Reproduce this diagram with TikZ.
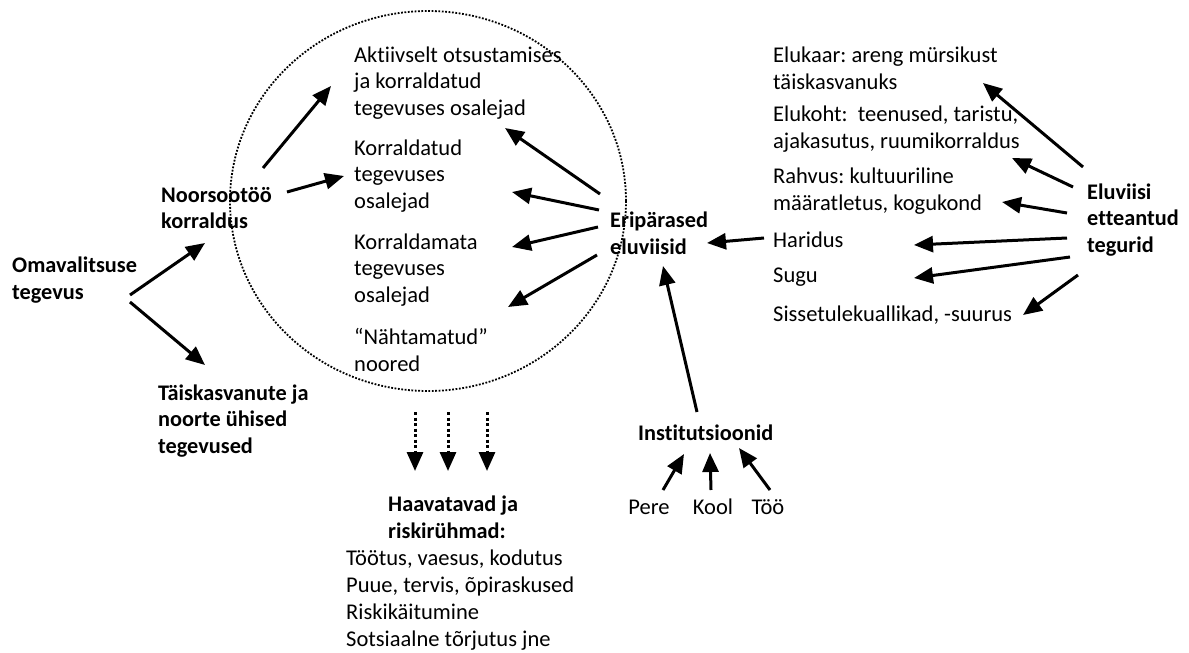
\documentclass[tikz,border=0pt]{standalone}
\usepackage{fontspec}
\setmainfont[Ligatures=NoCommon]{Carlito}
\usetikzlibrary{arrows.meta}
\begin{document}
\frenchspacing
\begin{tikzpicture}[x=1pt,y=-1pt,
  txt/.style={anchor=west,align=left,inner sep=0pt,font=\fontsize{22.5}{26.8}\selectfont},
  btxt/.style={anchor=west,align=left,inner sep=0pt,font=\fontsize{22.3}{26.8}\selectfont\bfseries},
  arr/.style={line width=3pt,-{Triangle[length=19pt,width=16pt]}},
  darr/.style={line width=3pt,dash pattern=on 3pt off 2.5pt,-{Triangle[length=19pt,width=16pt]}}]
\useasboundingbox (0,0) rectangle (1189,653);
% circle
\draw[line width=1.8pt,dash pattern=on 1.8pt off 1.6pt] (428,201) ellipse [x radius=198, y radius=190];
% left
\node[btxt] (omav) at (12,280) {Omavalitsuse\\tegevus};
\node[btxt] (noor) at (161,208) {Noorsootöö\\korraldus};
\node[btxt] (taisk) at (158,421) {Täiskasvanute ja\\noorte ühised\\tegevused};
% circle texts
\node[txt] (akt) at (354,83) {Aktiivselt otsustamises\\ja korraldatud\\tegevuses osalejad};
\node[txt] (korr) at (354,176) {Korraldatud\\tegevuses\\osalejad};
\node[txt] (korrm) at (354,270) {Korraldamata\\tegevuses\\osalejad};
\node[txt] (naht) at (354,350) {“Nähtamatud”\\noored};
% middle
\node[btxt] (erip) at (610,233) {Eripärased\\eluviisid};
% right
\node[txt] (eluk) at (773,68) {Elukaar: areng mürsikust\\täiskasvanuks};
\node[txt] (elukoht) at (773,129) {Elukoht:\hspace{0.45em}teenused, taristu,\\ajakasutus, ruumikorraldus};
\node[txt] (rahvus) at (773,191) {Rahvus: kultuuriline\\määratletus, kogukond};
\node[txt] (harid) at (773,240) {Haridus};
\node[txt] (sugu) at (773,277) {Sugu};
\node[txt] (siss) at (773,315) {Sissetulekuallikad, -suurus};
\node[btxt] (eluv) at (1087,220) {Eluviisi\\etteantud\\tegurid};
% bottom
\node[btxt] (inst) at (638,433) {Institutsioonid};
\node[txt,anchor=center] (pere) at (649,507) {Pere};
\node[txt,anchor=center] (kool) at (713,507) {Kool};
\node[txt,anchor=center] (too) at (768,507) {Töö};
\node[btxt] (haav) at (388,517) {Haavatavad ja\\riskirühmad:};
\node[txt] (list) at (346,600) {Töötus, vaesus, kodutus\\Puue, tervis, õpiraskused\\Riskikäitumine\\Sotsiaalne tõrjutus jne};
% arrow end coordinates
\coordinate (omavA) at (130,295); \coordinate (noorIn) at (205,243);
\coordinate (omavB) at (130,302); \coordinate (taiskIn) at (205,365);
\coordinate (noorA) at (263,168); \coordinate (aktIn) at (331,86);
\coordinate (noorB) at (287,192); \coordinate (korrIn) at (344,176);
\coordinate (eripA) at (600,194); \coordinate (aktIn2) at (505,128);
\coordinate (eripB) at (599,210); \coordinate (korrIn2) at (512,192);
\coordinate (eripC) at (598,227); \coordinate (korrmIn) at (512,247);
\coordinate (eripD) at (597,255); \coordinate (korrmIn2) at (508,307);
\coordinate (haridA) at (764,238); \coordinate (eripIn) at (707,243);
\coordinate (instA) at (697,412); \coordinate (eripIn2) at (663,266);
\coordinate (eluvA) at (1083,167); \coordinate (elukIn) at (983,83);
\coordinate (eluvB) at (1073,187); \coordinate (elukohtIn) at (1012,158);
\coordinate (eluvC) at (1067,213); \coordinate (rahvusIn) at (1002,202);
\coordinate (eluvD) at (1067,238); \coordinate (haridIn) at (914,245);
\coordinate (eluvE) at (1070,257); \coordinate (suguIn) at (914,278);
\coordinate (eluvF) at (1078,275); \coordinate (sissIn) at (1023,315);
\coordinate (pereA) at (663,490); \coordinate (instIn1) at (684,454);
\coordinate (koolA) at (711,490); \coordinate (instIn2) at (710,453);
\coordinate (tooA) at (770,490); \coordinate (instIn3) at (739,448);
\coordinate (d1) at (415,412); \coordinate (h1) at (415,471);
\coordinate (d2) at (448,412); \coordinate (h2) at (448,471);
\coordinate (d3) at (487,412); \coordinate (h3) at (487,471);
% arrows
\draw[arr] (omavA) -- (noorIn);
\draw[arr] (omavB) -- (taiskIn);
\draw[arr] (noorA) -- (aktIn);
\draw[arr] (noorB) -- (korrIn);
\draw[arr] (eripA) -- (aktIn2);
\draw[arr] (eripB) -- (korrIn2);
\draw[arr] (eripC) -- (korrmIn);
\draw[arr] (eripD) -- (korrmIn2);
\draw[arr] (haridA) -- (eripIn);
\draw[arr] (instA) -- (eripIn2);
\draw[arr] (eluvA) -- (elukIn);
\draw[arr] (eluvB) -- (elukohtIn);
\draw[arr] (eluvC) -- (rahvusIn);
\draw[arr] (eluvD) -- (haridIn);
\draw[arr] (eluvE) -- (suguIn);
\draw[arr] (eluvF) -- (sissIn);
\draw[arr] (pereA) -- (instIn1);
\draw[arr] (koolA) -- (instIn2);
\draw[arr] (tooA) -- (instIn3);
\draw[darr] (d1) -- (h1);
\draw[darr] (d2) -- (h2);
\draw[darr] (d3) -- (h3);
\end{tikzpicture}
\end{document}
